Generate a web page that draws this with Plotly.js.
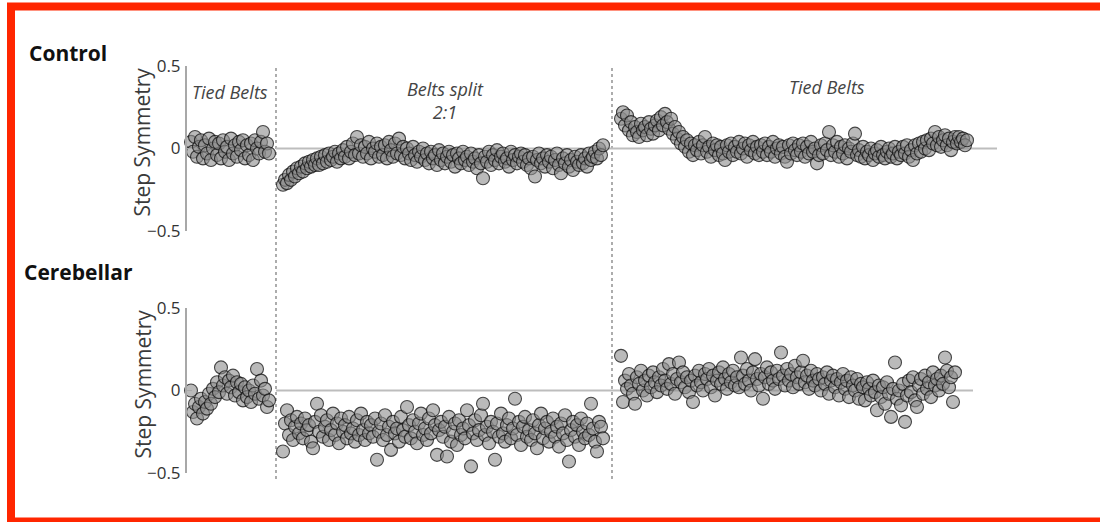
<!DOCTYPE html>
<html>
<head>
<meta charset="utf-8">
<script src="https://cdn.plot.ly/plotly-3.0.1.min.js"></script>
<style>html,body{margin:0;padding:0;background:#fff;}#chart{width:1100px;height:522px;}</style>
</head>
<body>
<div id="chart"></div>
<script>
// ---------- DATA (step symmetry per stride) ----------
const phaseStartStride = [1, 47, 216];          // first stride of each phase
const phaseBoundaries = [43.5, 211.5];          // stride positions of the dotted dividers
const phaseLabels = ["Tied Belts", "Belts split<br>2:1", "Tied Belts"];
const panelNames = ["Control", "Cerebellar"];
const yTickVals = [-0.5, 0, 0.5];
const yTickText = ["\u22120.5", "0", "0.5"];
const yTitle = "Step Symmetry";

const controlBaseline = [0.04,-0.02,0.07,-0.05,0.01,0.05,-0.06,0.02,-0.03,0.06,
 -0.07,0.00,0.04,-0.04,0.03,-0.06,0.05,-0.02,0.01,-0.07,
 0.06,-0.03,0.02,-0.05,0.04,-0.01,0.05,-0.06,0.02,-0.04,
 0.03,-0.07,0.05,0.00,-0.03,0.04,0.10,-0.02,0.03,-0.03];

const controlSplit = [-0.22,-0.19,-0.21,-0.16,-0.19,-0.14,-0.17,-0.12,-0.15,-0.11,
 -0.14,-0.09,-0.12,-0.08,-0.11,-0.07,-0.10,-0.06,-0.10,-0.05,
 -0.09,-0.04,-0.08,-0.03,-0.07,-0.05,-0.02,-0.08,-0.03,-0.06,
 -0.01,-0.05,0.01,-0.06,-0.02,0.03,-0.04,0.07,-0.03,0.02,
 -0.05,0.01,-0.03,0.04,-0.06,0.00,-0.02,0.03,-0.05,0.01,
 -0.04,0.02,-0.06,0.04,-0.01,-0.05,0.03,-0.03,0.06,-0.04,
 0.01,-0.06,0.00,-0.03,-0.07,0.01,-0.04,-0.08,-0.02,-0.05,
 0.00,-0.07,-0.03,-0.09,-0.02,-0.06,-0.04,-0.10,-0.01,-0.07,
 -0.03,-0.09,-0.05,-0.02,-0.08,-0.04,-0.11,-0.03,-0.06,-0.09,
 -0.02,-0.07,-0.05,-0.10,-0.03,-0.08,-0.06,-0.12,-0.04,-0.09,
 -0.18,-0.05,-0.08,-0.02,-0.10,-0.04,-0.07,-0.01,-0.09,-0.05,
 -0.03,-0.08,-0.06,-0.11,-0.02,-0.07,-0.04,-0.09,-0.05,-0.03,
 -0.08,-0.04,-0.10,-0.06,-0.12,-0.05,-0.17,-0.07,-0.03,-0.09,
 -0.06,-0.11,-0.04,-0.08,-0.05,-0.12,-0.07,-0.03,-0.10,-0.15,
 -0.06,-0.09,-0.04,-0.11,-0.07,-0.13,-0.05,-0.08,-0.10,-0.04,
 -0.09,-0.06,-0.11,-0.03,-0.07,-0.05,-0.02,-0.06,0.00,-0.04,
 0.02];

const controlPost = [0.18,0.22,0.14,0.20,0.11,0.16,0.08,0.13,0.10,0.07,
 0.15,0.11,0.13,0.08,0.16,0.12,0.09,0.14,0.17,0.11,
 0.19,0.14,0.21,0.16,0.12,0.18,0.09,0.13,0.06,0.10,
 0.03,0.07,0.01,0.05,-0.02,0.03,-0.04,0.02,-0.01,0.04,
 -0.03,0.02,0.07,-0.02,0.01,-0.05,0.03,-0.01,0.02,-0.04,
 0.01,-0.03,-0.07,0.02,-0.02,0.03,-0.04,0.01,-0.02,0.04,
 -0.03,0.00,0.03,-0.05,0.02,-0.01,0.04,-0.03,0.01,-0.04,
 0.02,-0.02,0.03,-0.04,0.01,-0.02,0.04,-0.05,0.00,0.02,
 -0.03,0.01,-0.05,-0.08,0.02,-0.03,0.03,-0.01,-0.04,0.02,
 -0.02,0.03,-0.05,0.01,-0.03,0.04,-0.02,0.00,-0.09,-0.04,
 0.02,-0.03,0.03,-0.01,0.10,-0.04,0.02,-0.02,0.04,-0.05,
 0.01,-0.03,0.02,-0.06,0.00,-0.02,0.03,0.09,-0.04,-0.01,
 -0.05,0.01,-0.06,-0.02,-0.04,0.00,-0.07,-0.03,-0.01,-0.05,
 0.01,-0.04,-0.06,-0.02,0.00,-0.05,-0.03,0.01,-0.06,-0.02,
 -0.04,0.01,-0.03,0.02,-0.05,-0.01,-0.07,0.02,-0.03,0.03,
 -0.02,0.04,0.00,0.05,-0.01,0.06,0.03,0.10,0.02,0.07,
 0.01,0.05,0.08,0.02,0.06,-0.01,0.04,0.07,0.03,0.07,
 0.04,0.06,0.02,0.05];

const cerebBaseline = [0.00,-0.13,-0.08,-0.17,-0.10,-0.05,-0.14,-0.07,-0.11,-0.02,
 -0.08,0.01,-0.04,0.05,-0.01,0.14,0.03,0.08,-0.02,0.06,
 0.02,0.09,-0.03,0.05,-0.01,0.04,-0.06,0.02,-0.04,0.00,
 -0.07,0.03,-0.02,0.13,-0.05,0.06,-0.03,0.01,-0.10,-0.06];

const cerebSplit = [-0.37,-0.20,-0.12,-0.27,-0.18,-0.30,-0.22,-0.16,-0.26,-0.20,
 -0.29,-0.17,-0.24,-0.21,-0.31,-0.35,-0.19,-0.08,-0.25,-0.15,
 -0.28,-0.22,-0.18,-0.30,-0.24,-0.14,-0.27,-0.20,-0.32,-0.17,
 -0.25,-0.21,-0.29,-0.16,-0.26,-0.23,-0.31,-0.18,-0.27,-0.14,
 -0.24,-0.30,-0.19,-0.26,-0.21,-0.28,-0.17,-0.42,-0.25,-0.20,
 -0.30,-0.15,-0.27,-0.22,-0.36,-0.19,-0.26,-0.23,-0.31,-0.16,
 -0.24,-0.28,-0.10,-0.21,-0.29,-0.18,-0.25,-0.32,-0.20,-0.14,
 -0.27,-0.23,-0.30,-0.17,-0.26,-0.12,-0.21,-0.39,-0.24,-0.19,
 -0.28,-0.22,-0.40,-0.16,-0.31,-0.25,-0.20,-0.33,-0.18,-0.27,
 -0.23,-0.29,-0.12,-0.21,-0.46,-0.26,-0.18,-0.30,-0.24,-0.15,
 -0.08,-0.27,-0.22,-0.32,-0.19,-0.25,-0.42,-0.20,-0.28,-0.14,
 -0.26,-0.31,-0.21,-0.17,-0.29,-0.23,-0.05,-0.27,-0.19,-0.33,
 -0.22,-0.16,-0.28,-0.24,-0.30,-0.18,-0.26,-0.35,-0.21,-0.14,
 -0.29,-0.23,-0.19,-0.31,-0.25,-0.17,-0.28,-0.22,-0.34,-0.20,
 -0.26,-0.15,-0.30,-0.43,-0.24,-0.19,-0.28,-0.21,-0.33,-0.17,
 -0.25,-0.29,-0.20,-0.27,-0.08,-0.23,-0.31,-0.37,-0.19,-0.22,
 -0.29];

const cerebPost = [0.21,-0.07,0.06,0.01,0.10,0.03,-0.02,-0.08,0.08,0.04,
 0.12,0.00,0.06,-0.03,0.09,0.02,0.11,0.05,-0.01,0.08,
 0.03,0.13,0.06,0.01,0.16,0.04,0.10,-0.02,0.07,0.17,
 0.05,0.11,0.02,0.08,-0.01,0.06,-0.07,0.09,0.03,0.12,
 0.05,0.00,0.10,0.07,0.13,0.02,0.09,-0.03,0.06,0.11,
 0.04,0.14,0.07,0.01,0.10,0.05,0.12,0.03,0.08,0.02,
 0.20,0.09,0.04,0.13,0.06,0.00,0.11,0.19,0.07,0.03,
 0.10,-0.05,0.08,0.14,0.04,0.11,0.06,0.01,0.12,0.07,
 0.23,0.09,0.03,0.13,0.06,0.10,0.02,0.15,0.08,0.04,
 0.11,0.18,0.05,0.09,0.01,0.12,0.06,0.03,0.10,0.07,
 0.00,0.08,0.04,0.11,-0.02,0.06,0.09,0.02,0.07,-0.03,
 0.05,0.10,0.01,0.06,-0.04,0.08,0.03,0.00,0.07,-0.05,
 0.04,0.02,-0.06,0.05,0.01,-0.03,0.06,-0.01,-0.12,0.03,
 -0.04,0.02,-0.08,0.05,-0.02,-0.16,0.01,0.17,-0.05,0.00,
 -0.09,0.04,-0.19,-0.03,0.06,-0.01,0.08,-0.06,-0.10,0.03,
 0.07,-0.02,0.09,0.01,0.05,-0.04,0.11,0.03,0.07,0.00,
 0.09,0.04,0.20,0.12,0.02,0.08,-0.07,0.11];

const zeroLineEnd = [404, 392];  // stride where each panel's zero line stops

// ---------- LAYOUT GEOMETRY ----------
const W = 1100, H = 522;
const strideOriginPx = 189, pxPerStride = 2;
const xp = p => p / W;
const yp = p => 1 - p / H;
const yAxisPx = 185;
const panelPx = [[66, 231], [308, 473]];   // pixel y of +0.5 and -0.5

const markerStyle = {
  size: 13,
  color: 'rgba(140,140,140,0.6)',
  line: { color: 'rgba(10,10,10,0.72)', width: 1.1 }
};

function strides(start, arr) { return arr.map((_, i) => start + i); }

const panels = [
  [controlBaseline, controlSplit, controlPost],
  [cerebBaseline, cerebSplit, cerebPost]
];

const traces = [];
panels.forEach((phases, pi) => {
  phases.forEach((vals, ph) => {
    traces.push({
      type: 'scatter', mode: 'markers',
      x: strides(phaseStartStride[ph], vals), y: vals,
      xaxis: 'x', yaxis: pi === 0 ? 'y' : 'y2',
      marker: markerStyle, cliponaxis: false, hoverinfo: 'skip'
    });
  });
});

const yAxisCommon = {
  range: [-0.5, 0.5], anchor: 'free', position: xp(yAxisPx),
  showline: true, linecolor: '#a8a8a8', linewidth: 1.5,
  ticks: 'inside', ticklen: 5, tickcolor: '#a8a8a8', tickwidth: 1.5,
  tickvals: yTickVals, ticktext: yTickText,
  tickfont: { family: 'Open Sans', size: 17, color: '#333' },
  showgrid: false, zeroline: false, fixedrange: true, ticklabelstandoff: 1
};

const shapes = [];
// dotted phase dividers
phaseBoundaries.forEach(b => shapes.push({
  type: 'line', xref: 'x', yref: 'paper', x0: b, x1: b, y0: yp(68), y1: yp(481),
  line: { color: '#8a8a8a', width: 1.4, dash: 'dot' }, layer: 'below'
}));
// zero lines
shapes.push({ type: 'line', xref: 'x', yref: 'y', x0: phaseBoundaries[0], x1: zeroLineEnd[0], y0: 0, y1: 0,
  line: { color: '#bdbdbd', width: 2 }, layer: 'below' });
shapes.push({ type: 'line', xref: 'x', yref: 'y2', x0: phaseBoundaries[0], x1: zeroLineEnd[1], y0: 0, y1: 0,
  line: { color: '#bdbdbd', width: 2 }, layer: 'below' });
// red frame
shapes.push({ type: 'rect', xref: 'paper', yref: 'paper', x0: xp(11), x1: 1.02, y0: yp(521.5), y1: yp(6.5),
  line: { color: 'rgb(255,38,0)', width: 8 }, fillcolor: 'rgba(0,0,0,0)' });

const annotations = [];
const panelLabelPos = [[27, 53], [22, 272]];
panelNames.forEach((n, i) => annotations.push({
  xref: 'paper', yref: 'paper', x: xp(panelLabelPos[i][0]), y: yp(panelLabelPos[i][1]),
  xanchor: 'left', yanchor: 'middle', showarrow: false, text: '<b>' + n + '</b>',
  font: { family: 'Open Sans', size: 21, color: '#111' }
}));
const phaseLabelPos = [[230, 92], [445, 100], [827, 87]];
phaseLabels.forEach((t, i) => annotations.push({
  xref: 'paper', yref: 'paper', x: xp(phaseLabelPos[i][0]), y: yp(phaseLabelPos[i][1]),
  xanchor: 'center', yanchor: 'middle', showarrow: false, text: '<i>' + t + '</i>',
  font: { family: 'Open Sans', size: 18, color: '#444' }
}));
panelPx.forEach(pp => annotations.push({
  xref: 'paper', yref: 'paper', x: xp(142), y: yp((pp[0] + pp[1]) / 2 - 6),
  xanchor: 'center', yanchor: 'middle', showarrow: false, textangle: -90,
  text: yTitle, font: { family: 'Open Sans', size: 21, color: '#3a3a3a' }
}));

const layout = {
  width: W, height: H, margin: { l: 0, r: 0, t: 0, b: 0 },
  paper_bgcolor: '#fff', plot_bgcolor: 'rgba(0,0,0,0)', showlegend: false,
  xaxis: { range: [-strideOriginPx / pxPerStride, (W - strideOriginPx) / pxPerStride], domain: [0, 1], visible: false, fixedrange: true },
  yaxis: Object.assign({}, yAxisCommon, { domain: [yp(panelPx[0][1]), yp(panelPx[0][0])] }),
  yaxis2: Object.assign({}, yAxisCommon, { domain: [yp(panelPx[1][1]), yp(panelPx[1][0])] }),
  shapes: shapes, annotations: annotations
};

Plotly.newPlot('chart', traces, layout, { staticPlot: true, displayModeBar: false });
</script>
</body>
</html>
